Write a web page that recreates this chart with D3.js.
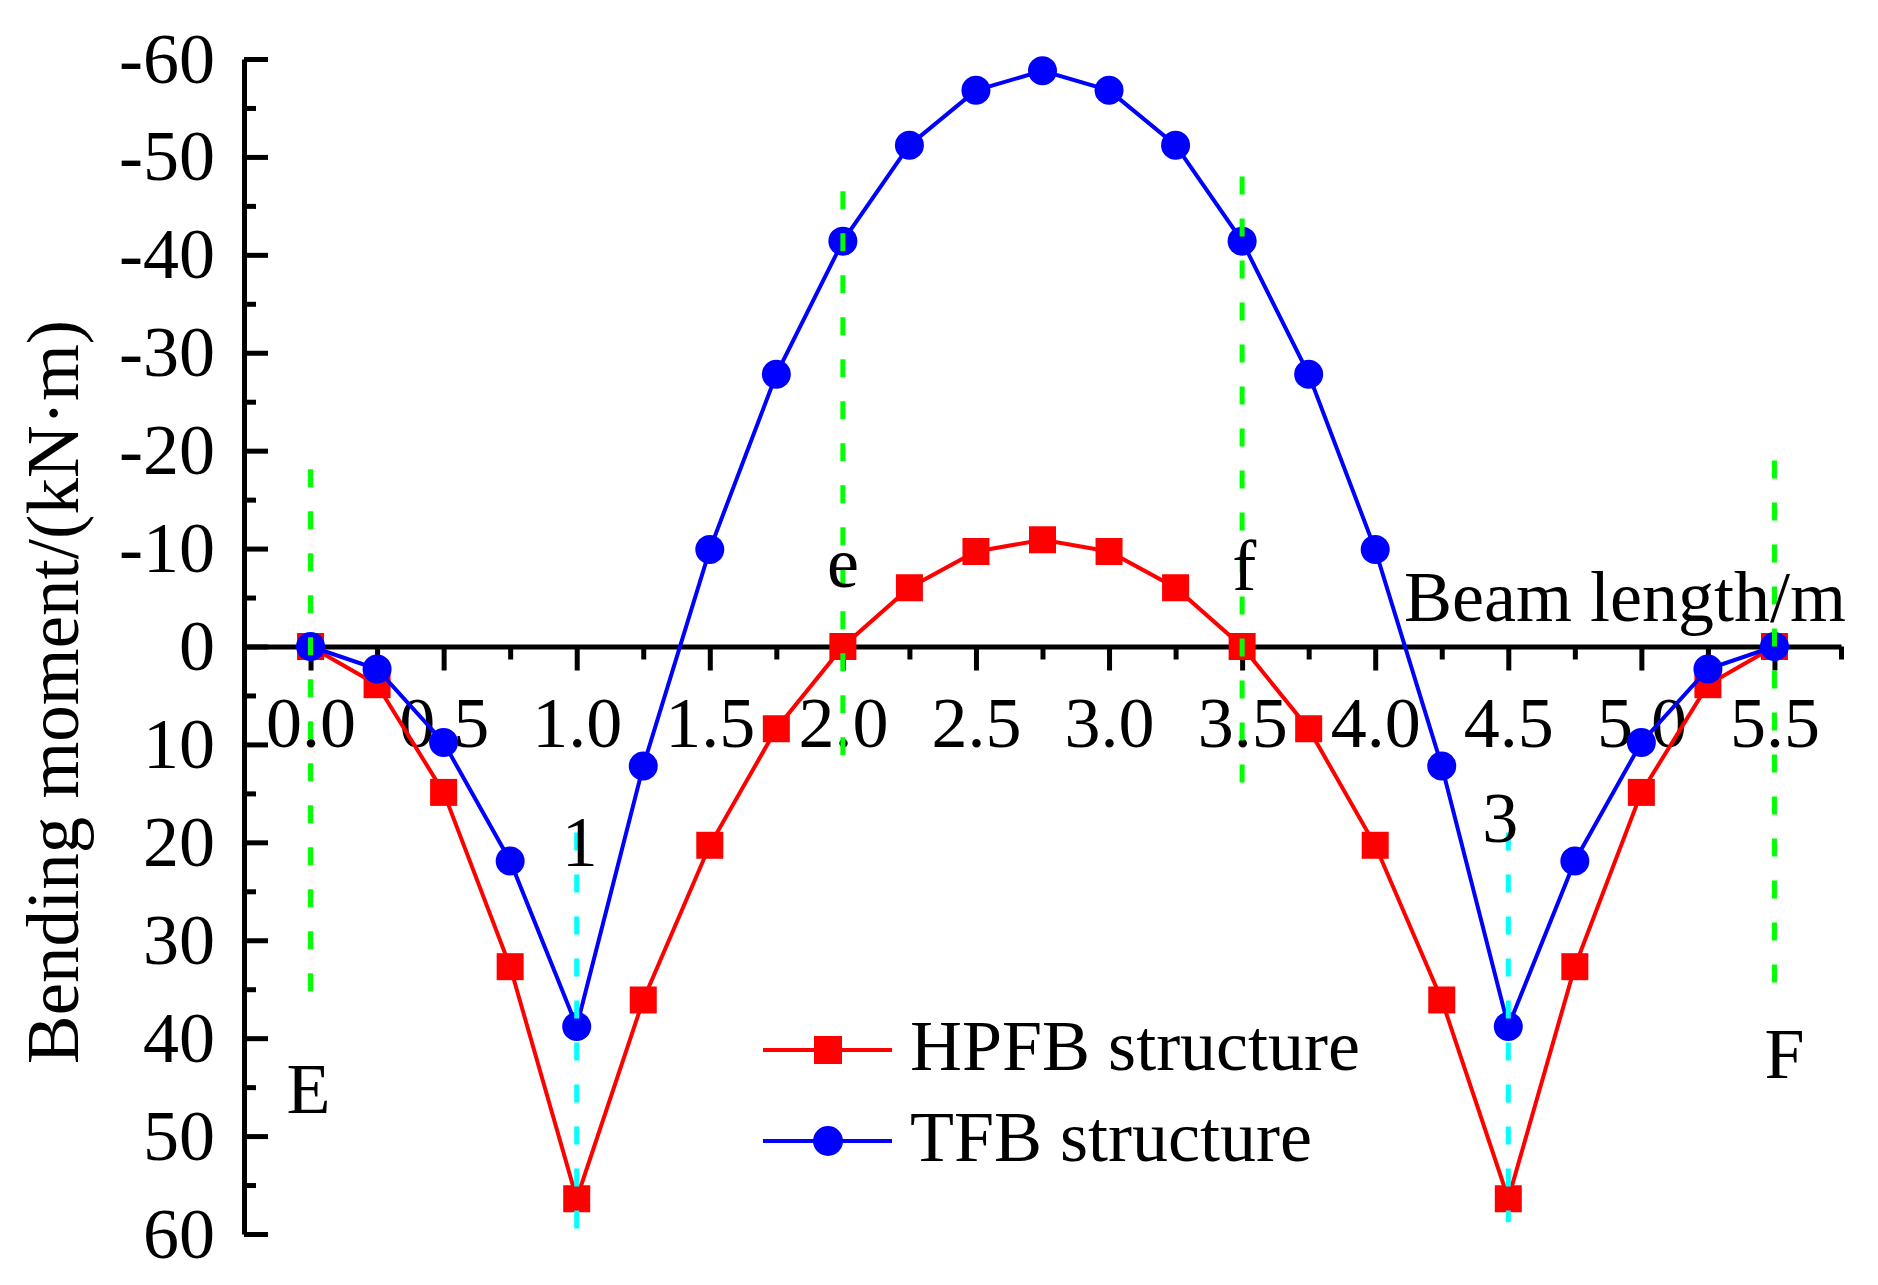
<!DOCTYPE html>
<html>
<head>
<meta charset="utf-8">
<script src="https://cdn.jsdelivr.net/npm/d3@7"></script>
<style>
  body { margin: 0; background: #fff; }
  text { font-family: "Liberation Serif", "Times New Roman", serif; }
</style>
</head>
<body>
<script>
// beam positions (m)
var beamX = [0, 0.25, 0.5, 0.75, 1.0, 1.25, 1.5, 1.75, 2.0, 2.25, 2.5, 2.75,
             3.0, 3.25, 3.5, 3.75, 4.0, 4.25, 4.5, 4.75, 5.0, 5.25, 5.5];
// bending moment (kN.m), positive plotted downward
var hpfbMoment = [0, 3.9, 14.9, 32.7, 56.4, 36.1, 20.3, 8.4, 0, -6.0, -9.7, -10.9,
                  -9.7, -6.0, 0, 8.4, 20.3, 36.1, 56.4, 32.7, 14.9, 3.9, 0];
var tfbMoment = [0, 2.3, 9.8, 21.9, 38.8, 12.2, -9.9, -27.8, -41.4, -51.2, -56.8, -58.8,
                 -56.8, -51.2, -41.4, -27.8, -9.9, 12.2, 38.8, 21.9, 9.8, 2.3, 0];

var seriesNames = ['HPFB structure', 'TFB structure'];
var xTickLabels = ['0.0', '0.5', '1.0', '1.5', '2.0', '2.5', '3.0', '3.5', '4.0', '4.5', '5.0', '5.5'];
var yTickLabels = ['-60', '-50', '-40', '-30', '-20', '-10', '0', '10', '20', '30', '40', '50', '60'];

// section marker lines: x, top value, bottom value
var sectionX = [0, 2.0, 3.5, 5.5];
var sectionTop = [-18.1, -46.5, -48, -19];
var sectionBottom = [35.5, 12, 14.5, 35.3];
var supportX = [1.0, 4.5];
var supportTop = [19, 19];
var supportBottom = [59.6, 58.8];

var width = 1878, height = 1285;

var x = d3.scaleLinear().domain([-0.25, 5.75]).range([244, 1841]);
var y = d3.scaleLinear().domain([-60, 60]).range([59, 1234]);

var svg = d3.select('body')
            .append('svg')
            .attr('width', width)
            .attr('height', height);

// y axis (ticks inward, labels outside)
var yMajor = yTickLabels.map(Number);
var yMinor = d3.range(12).map(function(i) { return -55 + i * 10; });

var yAxis = svg.append('g')
    .attr('transform', 'translate(' + x(-0.25) + ',0)')
    .call(d3.axisLeft(y).tickValues(yMajor).tickSize(-24).tickSizeOuter(0)
          .tickPadding(29).tickFormat(function(d, i) { return yTickLabels[i]; }));
svg.append('g')
    .attr('transform', 'translate(' + x(-0.25) + ',0)')
    .call(d3.axisLeft(y).tickValues(yMinor).tickSize(-12).tickSizeOuter(0).tickFormat(''))
    .select('.domain').remove();

// x axis at zero moment
var xMajor = xTickLabels.map(Number);
var xMinor = d3.range(13).map(function(i) { return -0.25 + i * 0.5; });

var xAxis = svg.append('g')
    .attr('transform', 'translate(0,' + y(0) + ')')
    .call(d3.axisBottom(x).tickValues(xMajor).tickSize(24).tickSizeOuter(0)
          .tickFormat(function(d, i) { return xTickLabels[i]; }));
svg.append('g')
    .attr('transform', 'translate(0,' + y(0) + ')')
    .call(d3.axisBottom(x).tickValues(xMinor).tickSize(13).tickSizeOuter(0).tickFormat(''))
    .select('.domain').remove();

xAxis.selectAll('text').attr('y', 100).attr('dy', null);

svg.selectAll('.domain, .tick line')
    .attr('stroke', '#000')
    .attr('stroke-width', 5);
svg.selectAll('.tick text')
    .attr('fill', '#000')
    .style('font-family', '"Liberation Serif", serif')
    .style('font-size', '72px');

// series
var line = d3.line()
    .x(function(d, i) { return x(beamX[i]); })
    .y(function(d) { return y(d); });

var red = svg.append('g');
red.append('path')
    .attr('fill', 'none')
    .attr('stroke', '#ff0000')
    .attr('stroke-width', 4)
    .attr('d', line(hpfbMoment));
red.selectAll('rect')
    .data(hpfbMoment)
    .enter()
    .append('rect')
    .attr('x', function(d, i) { return x(beamX[i]) - 13.5; })
    .attr('y', function(d) { return y(d) - 13.5; })
    .attr('width', 27)
    .attr('height', 27)
    .attr('fill', '#ff0000');

var blue = svg.append('g');
blue.append('path')
    .attr('fill', 'none')
    .attr('stroke', '#0000ff')
    .attr('stroke-width', 4)
    .attr('d', line(tfbMoment));
blue.selectAll('circle')
    .data(tfbMoment)
    .enter()
    .append('circle')
    .attr('cx', function(d, i) { return x(beamX[i]); })
    .attr('cy', function(d) { return y(d); })
    .attr('r', 14.5)
    .attr('fill', '#0000ff');

// dashed section lines
svg.selectAll('line.sect')
    .data(sectionX)
    .enter()
    .append('line')
    .attr('class', 'sect')
    .attr('x1', function(d) { return x(d); })
    .attr('x2', function(d) { return x(d); })
    .attr('y1', function(d, i) { return y(sectionTop[i]); })
    .attr('y2', function(d, i) { return y(sectionBottom[i]); })
    .attr('stroke', '#00ff00')
    .attr('stroke-width', 5)
    .attr('stroke-dasharray', '18,24');

svg.selectAll('line.supp')
    .data(supportX)
    .enter()
    .append('line')
    .attr('class', 'supp')
    .attr('x1', function(d) { return x(d); })
    .attr('x2', function(d) { return x(d); })
    .attr('y1', function(d, i) { return y(supportTop[i]); })
    .attr('y2', function(d, i) { return y(supportBottom[i]); })
    .attr('stroke', '#00ffff')
    .attr('stroke-width', 5)
    .attr('stroke-dasharray', '18,24');

// annotations
var notes = [
    {t: 'E', x: 0, dx: -2, y: 1113},
    {t: 'F', x: 5.5, dx: 10, y: 1078},
    {t: 'e', x: 2.0, dx: 0, y: 587},
    {t: 'f', x: 3.5, dx: 2, y: 590},
    {t: '1', x: 1.0, dx: 3, y: 866},
    {t: '3', x: 4.5, dx: -8, y: 842}
];
svg.selectAll('text.note')
    .data(notes)
    .enter()
    .append('text')
    .attr('class', 'note')
    .attr('x', function(d) { return x(d.x) + d.dx; })
    .attr('y', function(d) { return d.y; })
    .attr('text-anchor', 'middle')
    .style('font-size', '72px')
    .text(function(d) { return d.t; });

// axis titles
svg.append('text')
    .attr('x', 1404)
    .attr('y', 621)
    .style('font-size', '72px')
    .text('Beam length/m');

svg.append('text')
    .attr('transform', 'translate(78,692) rotate(-90)')
    .attr('text-anchor', 'middle')
    .style('font-size', '73px')
    .text('Bending moment/(kN\u00b7m)');

// legend
var leg = svg.append('g');
var legY = [1050, 1141];
leg.selectAll('line')
    .data(seriesNames)
    .enter()
    .append('line')
    .attr('x1', 763)
    .attr('x2', 892)
    .attr('y1', function(d, i) { return legY[i]; })
    .attr('y2', function(d, i) { return legY[i]; })
    .attr('stroke', function(d, i) { return i === 0 ? '#ff0000' : '#0000ff'; })
    .attr('stroke-width', 4);
leg.append('rect')
    .attr('x', 828 - 14).attr('y', legY[0] - 14)
    .attr('width', 28).attr('height', 28)
    .attr('fill', '#ff0000');
leg.append('circle')
    .attr('cx', 828).attr('cy', legY[1])
    .attr('r', 15)
    .attr('fill', '#0000ff');
leg.selectAll('text')
    .data(seriesNames)
    .enter()
    .append('text')
    .attr('x', 910)
    .attr('y', function(d, i) { return legY[i] + 20; })
    .style('font-size', '72px')
    .text(function(d) { return d; });
</script>
</body>
</html>
